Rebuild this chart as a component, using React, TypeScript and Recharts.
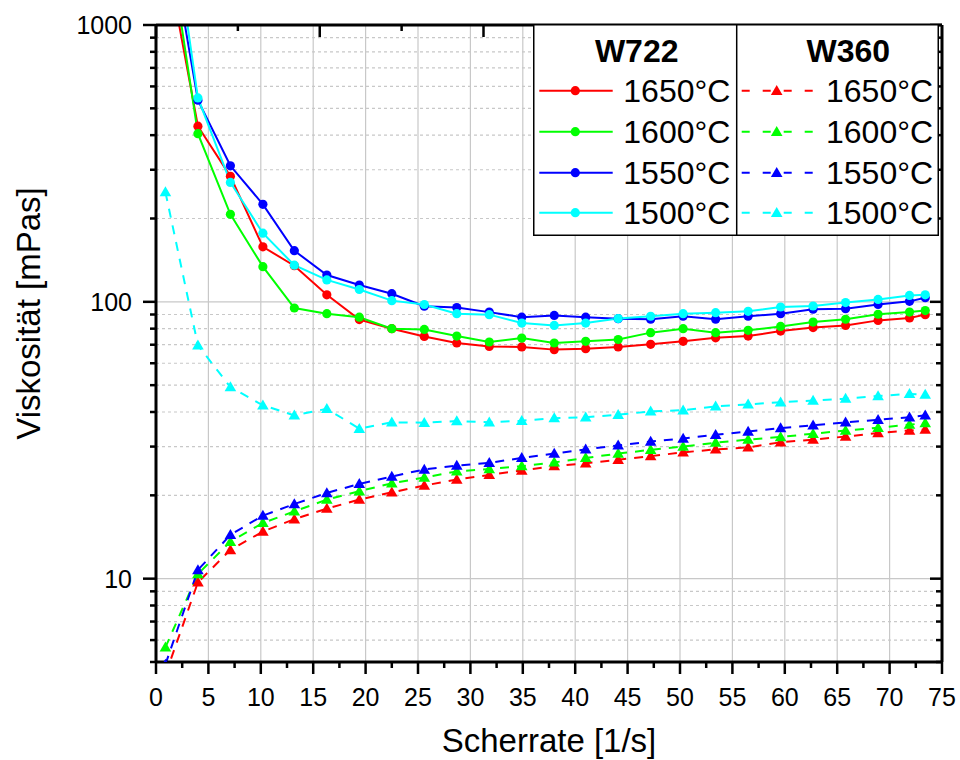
import { CartesianGrid, Legend, Line, LineChart, XAxis, YAxis } from "recharts"

const FONT = "'Liberation Sans', Arial, Helvetica, sans-serif"

// shear rate [1/s], shared by all eight runs
const SHEAR_RATE = [
  0.9, 4.0, 7.1, 10.2, 13.2, 16.3, 19.4, 22.5, 25.6, 28.7, 31.8, 34.9, 38.0,
  41.0, 44.1, 47.2, 50.3, 53.4, 56.5, 59.6, 62.7, 65.8, 68.9, 71.9, 73.4,
]

// W722, viscosity [mPas]
const W722_1650 = [
  1850, 431, 284, 158, 135, 106, 86.3, 80, 75, 71, 69, 68.7, 67.2, 67.7, 68.7,
  70.2, 72, 74.1, 75.2, 78.4, 80.7, 82.2, 85.7, 87.4, 89.9,
]
const W722_1600 = [
  2400, 405, 207, 134, 95, 90.6, 88, 80, 79.5, 75.2, 71.6, 74, 71, 72, 73.1,
  77.4, 80, 77.4, 78.9, 81.5, 84.5, 86.5, 90.2, 91.8, 93,
]
const W722_1550 = [
  2550, 535, 310, 225, 153, 125, 115, 107, 96.4, 95.3, 91.8, 88, 89.3, 88, 86.9,
  86.5, 88.7, 86.5, 88.7, 90.6, 94, 94.5, 97.8, 100.4, 103.5,
]
const W722_1500 = [
  3600, 545, 270, 177, 135.6, 120, 110.8, 101, 97.8, 90.6, 89.9, 83.8, 82.2,
  83.8, 87, 88.7, 90.6, 91.4, 92.4, 95.8, 96.6, 99.4, 102, 105.5, 106,
]

// W360, viscosity [mPas]
const W360_1650 = [
  4.5, 9.7, 12.7, 14.8, 16.4, 17.9, 19.3, 20.5, 21.7, 22.8, 23.7, 24.6, 25.5,
  26.1, 26.9, 27.7, 28.6, 29.3, 29.8, 31.1, 31.8, 32.6, 33.6, 34.3, 34.6,
]
const W360_1600 = [
  5.65, 10.4, 13.6, 15.9, 17.5, 19.3, 20.7, 22.1, 23.2, 24.4, 24.9, 25.5, 26.3,
  27.3, 28.3, 29.2, 30, 31, 31.8, 32.5, 33.4, 34.3, 35.1, 36, 36.5,
]
const W360_1550 = [
  4.9, 10.75, 14.4, 16.9, 18.6, 20.4, 22, 23.4, 24.8, 25.6, 26.2, 27.3, 28.3,
  29.3, 30.3, 31.3, 32.1, 33.1, 34, 35, 35.8, 36.7, 37.5, 38.3, 38.9,
]
const W360_1500 = [
  249, 69.7, 49.2, 42.3, 38.9, 41.1, 34.8, 36.7, 36.6, 37.1, 36.7, 37.2, 38,
  38.3, 39.1, 40.2, 40.6, 41.9, 42.6, 43.4, 44, 44.7, 45.7, 46.5, 46.2,
]

const TEMPS = ["1650°C", "1600°C", "1550°C", "1500°C"]
const COLORS = ["#ff0000", "#00ff00", "#0000ff", "#00ffff"]
const W722 = [W722_1650, W722_1600, W722_1550, W722_1500]
const W360 = [W360_1650, W360_1600, W360_1550, W360_1500]

const X_TICKS = Array.from({ length: 31 }, (_, i) => i * 2.5)
const X_GRID = [5, 10, 15, 20, 25, 30, 35, 40, 45, 50, 55, 60, 65, 70]
const Y_MAJOR = [10, 100, 1000]
const Y_MINOR = [5, 6, 7, 8, 9, 20, 30, 40, 50, 60, 70, 80, 90, 200, 300, 400, 500, 600, 700, 800, 900]
const Y_TICKS = [...Y_MINOR, ...Y_MAJOR].sort((a, b) => a - b)

const DASH = "9 8"

const tableData = SHEAR_RATE.map((x, i) => {
  const row: Record<string, number> = { x }
  W722.forEach((s, k) => (row[`a${k}`] = s[i]))
  W360.forEach((s, k) => (row[`b${k}`] = s[i]))
  return row
})

const isMajorX = (v: number) => v % 5 === 0

function BottomTick({ x, y, payload }: any) {
  const major = isMajorX(payload.value)
  return (
    <g>
      <line x1={x} x2={x} y1={y} y2={y + (major ? 12 : 6)} stroke="#000" strokeWidth={2.5} />
      {major && (
        <text x={x} y={y + 44} textAnchor="middle" fontSize={25} fontFamily={FONT} fill="#000">
          {payload.value}
        </text>
      )}
    </g>
  )
}

// top and right frame: ticks point into the plot
function TopTick({ x, y, payload }: any) {
  const major = isMajorX(payload.value)
  return <line x1={x} x2={x} y1={y} y2={y + (major ? 12 : 6)} stroke="#000" strokeWidth={2.5} />
}

function LeftTick({ x, y, payload }: any) {
  const major = Y_MAJOR.includes(payload.value)
  return (
    <g>
      <line x1={x - (major ? 13 : 6)} x2={x} y1={y} y2={y} stroke="#000" strokeWidth={2.5} />
      {major && (
        <text x={x - 24} y={y + 9} textAnchor="end" fontSize={25} fontFamily={FONT} fill="#000">
          {payload.value}
        </text>
      )}
    </g>
  )
}

function RightTick({ x, y, payload }: any) {
  const major = Y_MAJOR.includes(payload.value)
  return <line x1={x - (major ? 12 : 6)} x2={x} y1={y} y2={y} stroke="#000" strokeWidth={2.5} />
}

function YTitle({ viewBox }: any) {
  const cx = viewBox.x + 40
  const cy = viewBox.y + viewBox.height / 2 - 30
  return (
    <text
      x={cx}
      y={cy}
      transform={`rotate(-90, ${cx}, ${cy})`}
      textAnchor="middle"
      fontSize={33}
      fontFamily={FONT}
      fill="#000"
    >
      Viskosität [mPas]
    </text>
  )
}

const circleDot = (color: string) => (p: any) =>
  <circle key={`c-${p.index}`} cx={p.cx} cy={p.cy} r={4.6} fill={color} />

const triPoints = (cx: number, cy: number) =>
  `${cx},${cy - 5.8} ${cx - 5.8},${cy + 4.2} ${cx + 5.8},${cy + 4.2}`

const triangleDot = (color: string) => (p: any) =>
  <polygon key={`t-${p.index}`} points={triPoints(p.cx, p.cy)} fill={color} />

function LegendBox() {
  const rows = [66.7, 107.7, 148.7, 188.7]
  return (
    <svg width={406} height={212} style={{ display: "block" }}>
      <rect x={0.75} y={0.75} width={404.5} height={210.5} fill="#fff" stroke="#000" strokeWidth={1.5} />
      <line x1={203.7} x2={203.7} y1={0} y2={212} stroke="#000" strokeWidth={1.5} />
      <text x={103.7} y={37.7} textAnchor="middle" fontSize={32} fontWeight="bold" fontFamily={FONT}>
        W722
      </text>
      <text x={315.3} y={37.7} textAnchor="middle" fontSize={32} fontWeight="bold" fontFamily={FONT}>
        W360
      </text>
      {TEMPS.map((t, i) => (
        <g key={t}>
          <line x1={6.3} x2={79.7} y1={rows[i]} y2={rows[i]} stroke={COLORS[i]} strokeWidth={2} />
          <circle cx={42.3} cy={rows[i]} r={4.6} fill={COLORS[i]} />
          <text x={90.3} y={rows[i] + 11} fontSize={32} fontFamily={FONT}>
            {t}
          </text>
          <line
            x1={208.7}
            x2={280.3}
            y1={rows[i]}
            y2={rows[i]}
            stroke={COLORS[i]}
            strokeWidth={2}
            strokeDasharray="8 13"
          />
          <polygon points={triPoints(243.7, rows[i])} fill={COLORS[i]} />
          <text x={293} y={rows[i] + 11} fontSize={32} fontFamily={FONT}>
            {t}
          </text>
        </g>
      ))}
    </svg>
  )
}

export default function App() {
  return (
    <div style={{ position: "absolute", left: 0, top: 0, width: 960, height: 760, background: "#fff" }}>
      <LineChart
        width={960}
        height={760}
        data={tableData}
        margin={{ top: 24, right: 17, bottom: 0, left: 0 }}
      >
        <CartesianGrid
          xAxisId="x"
          yAxisId="y"
          verticalValues={X_GRID}
          horizontalValues={[10, 100]}
          stroke="#c8c8c8"
          strokeWidth={1.2}
        />
        <CartesianGrid
          xAxisId="x"
          yAxisId="y"
          vertical={false}
          horizontalValues={Y_MINOR.filter((v) => v > 5)}
          stroke="#c8c8c8"
          strokeWidth={1.2}
          strokeDasharray="3 3"
        />
        <XAxis
          xAxisId="x"
          dataKey="x"
          type="number"
          domain={[0, 75]}
          allowDataOverflow
          ticks={X_TICKS}
          interval={0}
          tickSize={0}
          tickMargin={0}
          tickLine={false}
          tick={BottomTick}
          axisLine={{ stroke: "#000", strokeWidth: 3 }}
          height={98}
          label={{
            value: "Scherrate [1/s]",
            position: "insideBottom",
            offset: 8,
            fontSize: 33,
            fontFamily: FONT,
            fill: "#000",
          }}
        />
        <XAxis
          xAxisId="top"
          orientation="top"
          type="number"
          domain={[0, 75]}
          allowDataOverflow
          ticks={X_TICKS}
          interval={0}
          tickSize={0}
          tickMargin={0}
          tickLine={false}
          tick={TopTick}
          axisLine={{ stroke: "#000", strokeWidth: 3 }}
          height={1}
        />
        <YAxis
          yAxisId="y"
          type="number"
          scale="log"
          domain={[5, 1000]}
          allowDataOverflow
          ticks={Y_TICKS}
          interval={0}
          tickSize={0}
          tickMargin={0}
          tickLine={false}
          tick={LeftTick}
          axisLine={{ stroke: "#000", strokeWidth: 3 }}
          width={156}
          label={YTitle}
        />
        <YAxis
          yAxisId="right"
          orientation="right"
          type="number"
          scale="log"
          domain={[5, 1000]}
          allowDataOverflow
          ticks={Y_TICKS}
          interval={0}
          tickSize={0}
          tickMargin={0}
          tickLine={false}
          tick={RightTick}
          axisLine={{ stroke: "#000", strokeWidth: 3 }}
          width={1}
        />
        {W360.map((_, k) => (
          <Line
            key={`b${k}`}
            xAxisId="x"
            yAxisId="y"
            dataKey={`b${k}`}
            name={`W360 ${TEMPS[k]}`}
            stroke={COLORS[k]}
            strokeWidth={2}
            strokeDasharray={DASH}
            dot={triangleDot(COLORS[k])}
            activeDot={false}
            isAnimationActive={false}
          />
        ))}
        {W722.map((_, k) => (
          <Line
            key={`a${k}`}
            xAxisId="x"
            yAxisId="y"
            dataKey={`a${k}`}
            name={`W722 ${TEMPS[k]}`}
            stroke={COLORS[k]}
            strokeWidth={2}
            dot={circleDot(COLORS[k])}
            activeDot={false}
            isAnimationActive={false}
          />
        ))}
        <Legend
          layout="vertical"
          align="center"
          verticalAlign="middle"
          content={LegendBox}
          wrapperStyle={{ left: 533, top: 24, width: 406, height: 212 }}
        />
      </LineChart>
    </div>
  )
}
